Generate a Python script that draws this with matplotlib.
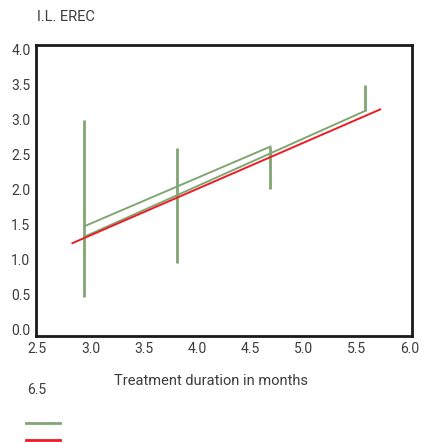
import numpy as np
import matplotlib.pyplot as plt
from matplotlib.lines import Line2D

plt.rcParams['font.family'] = ['Roboto', 'DejaVu Sans']

TEXT = '#3c3c3c'
GREEN = '#80a673'
RED = '#ec1c24'

# measurement points (months) and their spread
months = [2.94, 3.81, 4.69, 5.58]
erec_low = [0.47, 0.96, 2.01, 3.13]
erec_high = [3.0, 2.6, 2.62, 3.5]

# the two green connecting lines
upper_x = [2.94, 4.69]
upper_y = [1.48, 2.62]
lower_x = [2.94, 5.58]
lower_y = [1.33, 3.13]

# regression line
fit_x = [2.83, 5.72]
fit_y = [1.24, 3.15]

x_ticks = [2.5, 3.0, 3.5, 4.0, 4.5, 5.0, 5.5, 6.0]
y_ticks = [0.0, 0.5, 1.0, 1.5, 2.0, 2.5, 3.0, 3.5, 4.0]

W, H = 421, 442
fig = plt.figure(figsize=(W / 100, H / 100), dpi=100)
ax = fig.add_axes([36 / W, 1 - 336 / H, 376 / W, 291 / H])

ax.vlines(months, erec_low, erec_high, color=GREEN, linewidth=2)
ax.plot(upper_x, upper_y, color=GREEN, linewidth=1.4)
ax.plot(lower_x, lower_y, color=GREEN, linewidth=1.4)
ax.plot(fit_x, fit_y, color=RED, linewidth=1.4)

ax.set_xlim(2.488, 6.019)
ax.set_ylim(-0.086, 4.07)
ax.set_xticks(x_ticks)
ax.set_xticklabels([f'{v:.1f}' for v in x_ticks])
ax.set_yticks(y_ticks)
ax.set_yticklabels([f'{v:.1f}' for v in y_ticks])
ax.tick_params(length=0, labelsize=10, colors=TEXT, pad=4)
for s in ax.spines.values():
    s.set_linewidth(2)
    s.set_color('#1a1a1a')

fig.text(37 / W, 1 - 17 / H, 'I.L. EREC', fontsize=10.5, color=TEXT,
         ha='left', va='center')
fig.text(211 / W, 1 - 381 / H, 'Treatment duration in months',
         fontsize=10.5, color=TEXT, ha='center', va='center')
fig.text(37 / W, 1 - 390 / H, '6.5', fontsize=10, color=TEXT,
         ha='center', va='center')

# legend swatches without labels
for yy, c in [(423, GREEN), (440, RED)]:
    fig.add_artist(Line2D([26 / W, 60 / W], [1 - yy / H, 1 - yy / H],
                          transform=fig.transFigure, color=c, linewidth=2))

fig.savefig('out.png', dpi=100)
